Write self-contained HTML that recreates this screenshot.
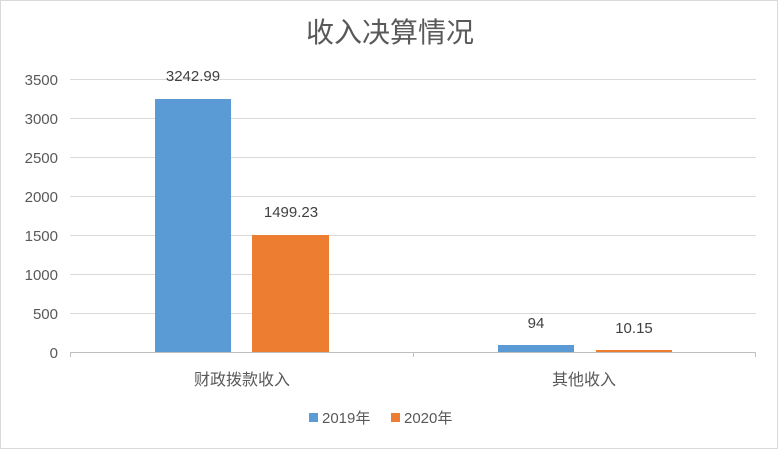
<!DOCTYPE html><html><head><meta charset="utf-8"><style>body{margin:0;background:#fff}</style></head><body>
<svg width="779" height="451" xmlns="http://www.w3.org/2000/svg" font-family="Liberation Sans, Noto Sans CJK SC, sans-serif">
<rect x="0.5" y="0.5" width="777" height="448" fill="#fff" stroke="#d9d9d9"/>
<text x="390" y="42" text-anchor="middle" font-size="28" fill="#595959">收入决算情况</text>
<g stroke="#d9d9d9" stroke-width="1">
<line x1="70" x2="756" y1="79.5" y2="79.5"/><line x1="70" x2="756" y1="118.5" y2="118.5"/>
<line x1="70" x2="756" y1="157.5" y2="157.5"/><line x1="70" x2="756" y1="196.5" y2="196.5"/>
<line x1="70" x2="756" y1="235.5" y2="235.5"/><line x1="70" x2="756" y1="274.5" y2="274.5"/>
<line x1="70" x2="756" y1="313.5" y2="313.5"/><line x1="70" x2="756" y1="352.5" y2="352.5" stroke="#bfbfbf"/>
<line x1="413.5" x2="413.5" y1="352" y2="357" stroke="#bfbfbf"/><line x1="755.5" x2="755.5" y1="352" y2="357" stroke="#bfbfbf"/><line x1="70.5" x2="70.5" y1="352" y2="357" stroke="#bfbfbf"/>
</g>
<g font-size="15" fill="#595959" text-anchor="end">
<text x="58" y="85">3500</text><text x="58" y="124">3000</text><text x="58" y="163">2500</text><text x="58" y="202">2000</text><text x="58" y="241">1500</text><text x="58" y="280">1000</text><text x="58" y="319">500</text><text x="58" y="358">0</text>
</g>
<rect x="155" y="99" width="76" height="253" fill="#5b9bd5"/>
<rect x="252" y="235" width="77" height="117" fill="#ed7d31"/>
<rect x="498" y="345" width="76" height="7" fill="#5b9bd5"/>
<rect x="596" y="350" width="76" height="2" fill="#ed7d31"/>
<g font-size="15" fill="#404040" text-anchor="middle">
<text x="193" y="81">3242.99</text><text x="291" y="217">1499.23</text>
<text x="536" y="328">94</text><text x="634" y="333">10.15</text>
</g>
<g font-size="16" fill="#595959" text-anchor="middle">
<text x="242" y="385">财政拨款收入</text><text x="584" y="385">其他收入</text>
</g>
<rect x="309" y="413" width="9" height="9" fill="#5b9bd5"/>
<text x="322" y="423" font-size="15" fill="#595959">2019年</text>
<rect x="391" y="413" width="9" height="9" fill="#ed7d31"/>
<text x="404" y="423" font-size="15" fill="#595959">2020年</text>
</svg></body></html>
